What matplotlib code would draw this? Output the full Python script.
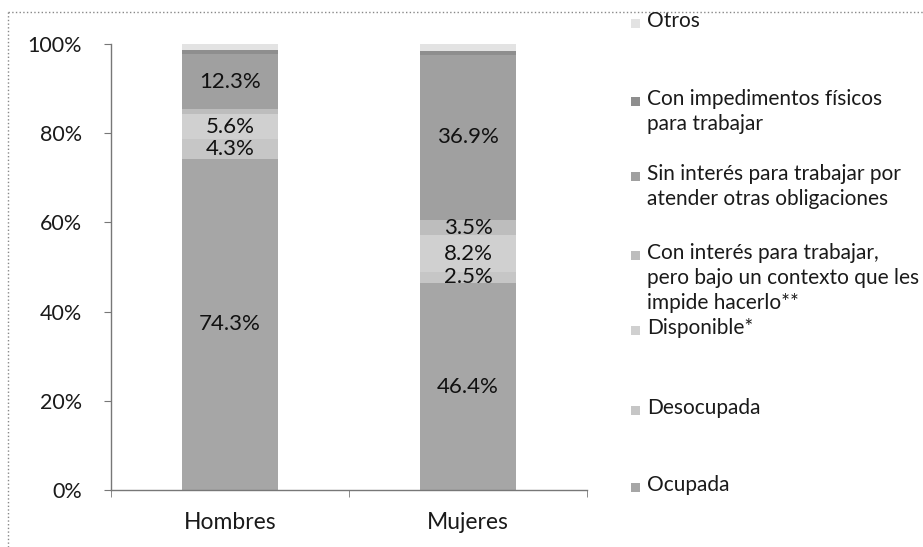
import numpy as np
import matplotlib.pyplot as plt
from matplotlib.patches import Rectangle
from matplotlib.lines import Line2D

plt.rcParams['font.family'] = ['Lato', 'DejaVu Sans']

categories = ['Hombres', 'Mujeres']
series_names = ['Ocupada', 'Desocupada', 'Disponible*',
                'Con interés para trabajar,\npero bajo un contexto que les\nimpide hacerlo**',
                'Sin interés para trabajar por\natender otras obligaciones',
                'Con impedimentos físicos\npara trabajar',
                'Otros']
hombres = [74.3, 4.3, 5.6, 1.2, 12.3, 0.9, 1.4]
mujeres = [46.4, 2.5, 8.2, 3.5, 36.9, 1.0, 1.5]
colors = ['#a6a6a6', '#c6c6c6', '#d0d0d0', '#bdbdbd', '#a0a0a0', '#8e8e8e', '#e3e3e3']
y_ticks = [0, 20, 40, 60, 80, 100]

W, H = 923, 547
fig = plt.figure(figsize=(W / 100, H / 100), dpi=100)
ax = fig.add_axes([111 / W, 1 - 490 / H, (587 - 111) / W, (490 - 44) / H])

values = np.array([hombres, mujeres])
x = np.arange(len(categories))
bottom = np.zeros(len(categories))
for k, name in enumerate(series_names):
    ax.bar(x, values[:, k], 0.40, bottom=bottom, color=colors[k], linewidth=0)
    for i in range(len(categories)):
        v = values[i, k]
        if v >= 2.5:
            ax.text(x[i], bottom[i] + v / 2, f'{v:.1f}%', ha='center', va='center',
                    fontsize=16, color='#111111')
    bottom += values[:, k]

ax.set_xlim(-0.5, 1.5)
ax.set_ylim(0, 100)
ax.set_yticks(y_ticks)
ax.set_yticklabels([f'{t}%' for t in y_ticks])
ax.set_xticks(x)
ax.set_xticklabels(categories)
ax.set_xticks([-0.5, 0.5, 1.5], minor=True)
ax.tick_params(axis='x', which='major', length=0, pad=16, labelsize=16.5, labelcolor='#1a1a1a')
ax.tick_params(axis='x', which='minor', length=5, color='#777777', direction='out')
ax.tick_params(axis='y', length=5, color='#777777', pad=16, labelsize=15.5, labelcolor='#1a1a1a')
for s in ['top', 'right']:
    ax.spines[s].set_visible(False)
for s in ['left', 'bottom']:
    ax.spines[s].set_color('#777777')
    ax.spines[s].set_linewidth(1)

# legend drawn by hand, top entry = last series
legend_y_px = [487, 410, 330, 255, 176, 101, 23]
for k, name in enumerate(series_names):
    yc = legend_y_px[k]
    fig.patches.append(Rectangle((631 / W, 1 - (yc + 5) / H), 9 / W, 9 / H,
                                 transform=fig.transFigure, facecolor=colors[k],
                                 edgecolor='none'))
    fig.text(647 / W, 1 - (yc - 12) / H, name, ha='left', va='top', fontsize=15,
             color='#1a1a1a', linespacing=1.3)

# dotted chart border
fig.add_artist(Line2D([8 / W, 1], [1 - 12 / H, 1 - 12 / H], transform=fig.transFigure,
                      color='#888888', lw=1, ls=':'))
fig.add_artist(Line2D([8 / W, 8 / W], [0, 1 - 12 / H], transform=fig.transFigure,
                      color='#888888', lw=1, ls=':'))

fig.savefig('out.png', dpi=100)
